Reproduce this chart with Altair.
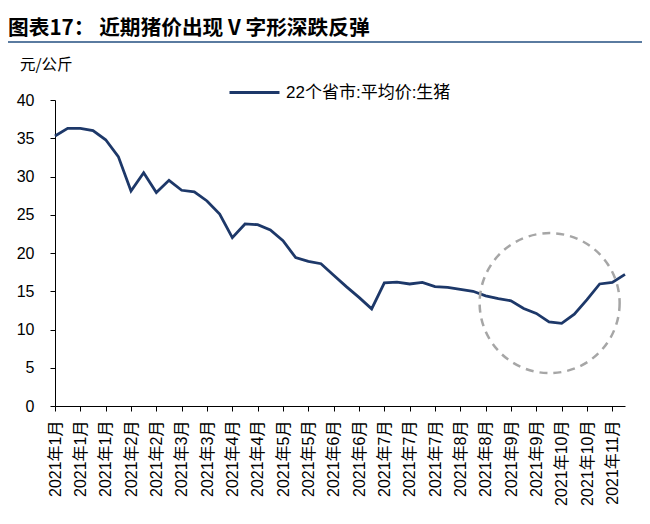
import altair as alt
import pandas as pd

title_text = "图表17：  近期猪价出现 V 字形深跌反弹"
unit_text = "元/公斤"
series_name = "22个省市:平均价:生猪"

tick_labels = [
    "2021年1月", "2021年1月", "2021年1月", "2021年2月", "2021年2月",
    "2021年3月", "2021年3月", "2021年4月", "2021年4月", "2021年5月",
    "2021年5月", "2021年6月", "2021年6月", "2021年7月", "2021年7月",
    "2021年7月", "2021年8月", "2021年8月", "2021年9月", "2021年9月",
    "2021年10月", "2021年10月", "2021年11月",
]

prices = [
    35.3, 36.3, 36.3, 36.0, 34.8, 32.6, 28.1, 30.5, 27.9, 29.5,
    28.2, 28.0, 26.8, 25.1, 22.0, 23.8, 23.7, 23.0, 21.6, 19.4,
    18.9, 18.6, 17.1, 15.6, 14.2, 12.7, 16.1, 16.2, 15.95, 16.15,
    15.6, 15.5, 15.25, 15.0, 14.4, 14.05, 13.75, 12.75, 12.1, 11.0,
    10.8, 12.0, 13.9, 15.95, 16.15, 17.2,
]

y_ticks = [0, 5, 10, 15, 20, 25, 30, 35, 40]

# dashed highlight circle (data coords: week index, price)
highlight_idx = [39.05]
highlight_price = [13.45]

LINE_COLOR = "#1D3869"
LATIN = "Arial, Liberation Sans, Noto Sans CJK SC"
CJK = "Noto Sans CJK SC"

df = pd.DataFrame({
    "idx": list(range(len(prices))),
    "price": prices,
    "series": [series_name] * len(prices),
})

tick_positions = [i * 2 for i in range(len(tick_labels))]
label_array = "[" + ",".join("'" + s + "'" for s in tick_labels) + "]"
label_expr = label_array + "[round(datum.value / 2)]"

x_scale = alt.Scale(domain=[0, len(prices) - 1], nice=False, zero=False)
y_scale = alt.Scale(domain=[0, 40], nice=False)

x_axis = alt.Axis(
    title=None, values=tick_positions, labelExpr=label_expr,
    labelAngle=270, labelAlign="right", labelBaseline="middle",
    labelFont=LATIN, labelFontSize=16, labelColor="#000000",
    labelPadding=9, labelOverlap=False, labelBound=False,
    tickSize=5, tickColor="#000000", domainColor="#000000",
    grid=False,
)
y_axis = alt.Axis(
    title=None, values=y_ticks, labelFont=LATIN, labelFontSize=16,
    labelColor="#000000", labelPadding=16, tickSize=5, labelOverlap=False,
    tickColor="#000000", domainColor="#000000", grid=False,
)

line = alt.Chart(df).mark_line(strokeWidth=2.8).encode(
    x=alt.X("idx:Q", scale=x_scale, axis=x_axis),
    y=alt.Y("price:Q", scale=y_scale, axis=y_axis),
    color=alt.Color("series:N", scale=alt.Scale(range=[LINE_COLOR]),
                    legend=alt.Legend(
                        orient="none", legendX=173, legendY=-34,
                        title=None, symbolType="stroke", symbolSize=2500,
                        symbolStrokeWidth=3, labelFont=LATIN,
                        labelFontSize=17, labelColor="#000000",
                        labelOffset=5, padding=0, labelLimit=400,
                    )),
)

circle_df = pd.DataFrame({"idx": highlight_idx, "price": highlight_price})
circle = alt.Chart(circle_df).mark_point(
    shape="circle", filled=False, size=19600, stroke="#A6A6A6",
    strokeWidth=2.5, strokeDash=[8, 6], opacity=1,
).encode(
    x=alt.X("idx:Q", scale=x_scale, axis=x_axis),
    y=alt.Y("price:Q", scale=y_scale, axis=y_axis),
)

title = alt.Chart(pd.DataFrame({"t": [title_text]})).mark_text(
    font=CJK, fontSize=20.7, fontWeight="bold", align="left",
    baseline="middle", color="#000000",
).encode(text="t:N", x=alt.value(-47), y=alt.value(-71.5))

underline = alt.Chart(pd.DataFrame({"t": [0]})).mark_rule(
    color="#5A7BA0", strokeWidth=2,
).encode(x=alt.value(-47), x2=alt.value(587), y=alt.value(-58))

unit = alt.Chart(pd.DataFrame({"t": [unit_text]})).mark_text(
    font=CJK, fontSize=15.5, align="left", baseline="middle", color="#000000",
).encode(text="t:N", x=alt.value(-35), y=alt.value(-35))

chart = alt.layer(line, circle, title, underline, unit).properties(
    width=570, height=306,
    autosize=alt.AutoSizeParams(type="none"),
    padding={"left": 47, "top": 92, "right": 17, "bottom": 110},
    background="#FFFFFF",
).configure_view(stroke=None)

chart.save("out.html", embed_options={"renderer": "svg", "actions": False})
